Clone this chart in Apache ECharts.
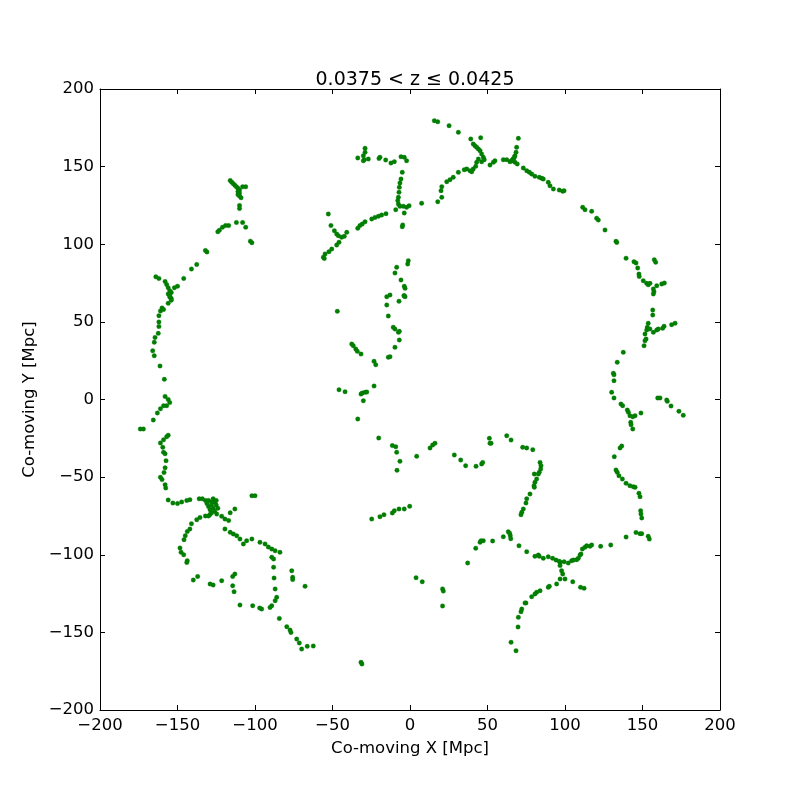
<!DOCTYPE html>
<html>
<head>
<meta charset="utf-8">
<script src="https://cdn.jsdelivr.net/npm/echarts@6/dist/echarts.min.js"></script>
<style>html,body{margin:0;padding:0;background:#fff}#c{width:800px;height:800px}</style>
</head>
<body>
<div id="c"></div>
<script>
const titleText = '0.0375 < z \u2264 0.0425';
const xLabel = 'Co-moving X [Mpc]';
const yLabel = 'Co-moving Y [Mpc]';
const axisMin = -200, axisMax = 200, axisStep = 50;

const westArc = [
[-116,141],[-115,140],[-114,139],[-113,138],[-112,137],[-111,136],[-110,135],[-111,134],[-110,133],[-110,131],[-109,130],[-108,137],[-106,137],[-111,132],
[-110,125],[-110,123],[-112,114],[-108,114],[-106,111],
[-117,112],[-119,112],[-121,111],[-123,109],[-124,108],
[-103,102],[-102,101],[-131,95],[-132,96],[-137.6,87],[-141,84],[-146,78],
[-164,79],[-162,78],
[-158,76],[-157,74],[-156,72],[-155,70],[-154,69],[-152,72],[-150,73],[-156,68],[-155,66],[-154,65],
[-155,67],[-154,64],[-156,62],
[-160,59],[-161,57],[-159,58],[-162,54],[-162,50],[-162,47],[-162.4,42.6],[-164.5,40],[-165,36.8],[-166,31.4],[-165,28.2],[-161.3,21.6],[-158.5,13],
[-158,2],[-156,0],[-155,-2],[-157,-4],[-159,-4],[-161,-6],[-163,-8.7],[-165.6,-13.2],[-174,-19],[-172,-19],
[-156,-23],[-157,-24],[-159,-26],[-161,-28],[-159.5,-30.8],[-159,-34],[-158,-35],[-157.4,-39.4],[-158,-44],[-158.7,-47],[-161,-50],[-160,-51.6],[-158,-54.9],[-157.6,-57],[-156,-64.7]
];

const southWest = [
[-153,-66.7],[-150,-67],[-147.3,-66],[-144,-65],[-142,-64.5],
[-136,-64],[-134,-64],[-132,-65],[-130,-65],[-128,-66],[-127,-64],[-126,-66],[-125,-65],[-131,-67],[-130,-69],[-129,-71],[-128,-68],[-127,-70],[-126,-72],[-129,-74],[-130,-75],[-128,-73],[-125,-68],[-124,-70],
[-124.7,-73.8],[-121.5,-75.2],[-119.4,-77],[-117,-78],[-116,-73],[-113,-70.5],[-102,-62],[-100,-62],
[-132,-75],[-135.5,-76],[-137.6,-77.4],[-141,-80],[-142,-83.4],[-143.7,-85],[-145,-87.7],[-145.8,-90.3],[-148.4,-95.6],[-147.7,-98.4],[-146,-100],[-143.7,-103.8],[-144,-105],
[-119.4,-83.4],[-116,-85.5],[-114,-86.6],[-111.8,-87.7],[-109.7,-89.9],[-107.5,-93],[-105.4,-91],[-102,-89.9],
[-96.8,-92],[-93.5,-93],[-91.4,-95],[-89.2,-96.3],[-87,-97.4],[-83.9,-98.4],[-89.2,-101.6],[-88,-102.7],[-88,-108],[-87.7,-115],[-87,-122],[-86,-127.4],[-87,-129.6],[-89.2,-132.8],[-90.3,-133.9],[-95.7,-135],[-97,-134.3],[-101.5,-132.8],[-109.7,-132.4],
[-76.3,-110.3],[-75.7,-114.5],[-75.7,-116],[-67.7,-120.3],[-84.3,-141],[-79.5,-146.3],[-77.4,-148.5],[-76.8,-150],[-73.1,-154.3],[-71.4,-156.8],[-69.9,-160.7],[-66.3,-159],[-62.4,-158.8],
[-139.8,-116.3],[-137,-114],[-129,-118.8],[-127,-119.5],[-121.5,-116.7],[-114.4,-114],[-113,-112.4],[-114.4,-120],[-113.5,-123.8]
];

const southCentral = [
[-24.7,-77],[-19.4,-75.5],[-16.8,-74.2],[-11.4,-73.1],[-10.1,-71.6],[-7.1,-70.5],[-3.7,-70.5],[-0.2,-68.8],
[-31.6,-169.3],[-31,-170.4],[3.9,-114.8],[7.9,-117.4],[21,-122],[21.5,-123.4],[21,-133],
[37.2,-105.3],[42.4,-95.8],[45.2,-92],[45.8,-91],[47.3,-91],[53.3,-91.1],[60.2,-88.4],[63.4,-85.2],[64.3,-86.2],[64.7,-87.7],[65,-89.7],[65.2,-156.4]
];

const southEast = [
[75.3,-64],[74.8,-66.7],[73.1,-70.5],[72.1,-72.7],[71.6,-74.2],[70.3,-94.2],[75.3,-98],
[80.6,-101],[82.8,-100.2],[83.4,-101],[86,-102.3],[89.2,-101.3],[92,-102.3],[94.2,-103.4],[96.3,-104.2],[96.8,-104.9],[99.4,-104.5],[102.1,-105.3],[104.3,-103.8],[105.4,-103.4],[107.5,-103.2],[108.6,-102.3],[109.7,-100.2],[110.3,-99.5],[111.2,-96.3],[112.9,-95.2],[114,-94.2],[116.1,-94.6],[117.2,-93.7],
[123,-94.6],[129.5,-93.7],[139.4,-88.6],[145.8,-85.6],[148.4,-86.4],[149.5,-86.4],[153.7,-88.1],[154.4,-89.9],[148.8,-71.6],[149,-73.8],[149.5,-76.3],
[96.8,-107],[97.8,-110.3],[98.5,-112.4],[96.8,-115.6],[100,-115.6],[94.6,-118.8],[105,-117.4],[110,-121],[112.3,-121.6],[89.2,-121],[89.9,-120.3],[83.9,-123.2],[81.7,-124.2],[80.6,-125.3],[78.5,-127],[74.8,-131],[74.2,-131],[72.1,-135],[71.6,-136.7],[69.9,-140.3],[69.7,-146.5],[68.4,-161.8]
];

const centre = [
[-46.9,56.8],[-15,66.2],[-12.9,67.3],[-15,60.9],[-7.1,63.3],[-3.9,66.9],[-3.2,66.2],[-14,53.8],[-10.8,46.5],[-9.7,45.4],[-7.5,43.3],[-6.9,43.9],[-6.9,38.3],[-9.7,33.6],[-14,27.2],[-12.9,27.6],
[-37.6,35.7],[-36.6,34.7],[-35,32.5],[-34,31],[-31.6,29.3],[-23.2,24.6],[-22.1,22.4],[-45.8,6.3],[-41.9,5],[-31.6,3.5],[-30.8,4.2],[-29,4.6],[-27.9,4.8],[-30.1,-0.8],[-23.2,8.7],[-33.7,-12.6],[-20.2,-24.8],[-11.4,-29.7],[-9.2,-30.4],[-8.6,-34],[-6.5,-39.8],[-8.4,-45.6],[4.3,-36.6],[12.9,-31.2],[14.6,-29.3],[16.1,-28.2],[28.6,-35.7],[32.7,-39],[35.9,-42.6],[42.6,-43],[46.2,-41.5],[46.9,-40.5],[51.2,-25],[51.6,-28.2],[52.3,-28.2],[62.4,-23.3],[65.2,-26.1],
[72.7,-30.8],[75.3,-31.2],[79.2,-32.3],[83.9,-40.5],[84.5,-42.6],[84.3,-44.8],[83.4,-46.9],[82.8,-48],[80.2,-48],[81.7,-51.2],[80.6,-53.3],[80,-55.5],[80.2,-56.6],[77.4,-60.9]
];

const eastArc = [
[131.8,-36.8],[135.5,-31.2],[136.6,-30],[132.9,-45.4],[133.7,-46.9],[134.8,-49.1],[137,-51.2],[139.4,-54],[141.9,-55.5],[144.1,-56.2],[145.2,-56.6],[147.7,-60.4],[148.4,-62.6],
[137.6,30.4],[133.7,24],[131.2,16.9],[131.6,16],[131.6,12.1],[130.1,4.6],[131.6,1],[136.1,-2.9],[137.2,-4],[140.2,-6.8],[140.9,-8.2],[141.9,-10.4],[143.7,-11.1],[145.2,-10.4],[142.4,-14.7],[142.6,-16.2],[143.7,-19],[149,-8.7],
[159.8,1],[161.3,1],[165.6,-0.3],[166,-1.2],[168.4,-4.2],[173.5,-7.6],[176.3,-10.2],
[157,68],[156.6,57.6],[156.6,54.4],[153.7,49.1],[153.1,46.5],[152.7,44.8],[151.6,42.2],[152.3,39],[151.6,37.9],[151,34.7],[154.8,45.4],[157,43.3],[159.2,44.8],[160.2,45.4],[163,45.9],[163.9,47.2],[168.8,48.2],[171,49.1],
[111.4,123.8],[112.9,122.3],[117.2,121.2],[120.4,116.7],[121.5,115.6],[125.8,109.2],[132.9,101.9],[133.4,101.2],
[139.4,91],[144.5,88.8],[145.8,87.9],[146.9,84.7],[147.7,80.8],[147.9,79.3],[150.5,76.5],[152.7,74.8],[153.7,73.9],[154.8,74.8],[157,71.2],[157.4,69.4],[159.2,73.3],[162.4,74.4],[164.1,75],[157.6,90],[158.5,88.4]
];

const northArc = [
[69.9,168.2],[68.8,162.4],[68.4,159.2],[67.7,157],[66.6,154.9],[65.6,153.8],[64.5,153.2],[67.7,152.8],[69.2,151.7],
[73.1,149.1],[75.3,147.4],[77,146.3],[78.5,145.2],[80.6,143.8],[83.4,143.1],[85,142.5],[86,142],[89.2,139.9],[90.3,137.7],[92.5,135.6],[96.3,134.9],[98.5,134.1],[99.4,134.5],
[15.7,179.6],[17.9,178.9],[25.2,176.4],[31.2,172.1],[39.2,167.8],[45.6,168.6],
[40.8,164.6],[41.9,163.5],[43,162.4],[44.1,161.4],[45.2,160.3],[46.2,158.1],[47.3,156],[47.9,154.5],[46.2,153.2],[44.1,154.9],[43,152.8],[42.4,150.2],[40.8,148.5],[39.8,146.7],[38.7,147.4],[36.6,148.5],[35,148],
[51.6,151],[53.8,152.8],[54.8,153.8],[60.2,154.5],[62.4,154.5],[65.6,153.8],[66.6,154.9],[67.3,156],
[31.2,146.3],[27.9,143.1],[25.8,141.6],[23.7,140.3],[20.5,137.1],[20,134.5],[20.5,130.2],[17.9,127.4],[7.5,126.4]
];

const northWest = [
[-29,161.8],[-29,159.2],[-30.1,157],[-29.5,154.5],[-30.1,153.8],[-33.7,155.6],[-26.9,154.9],[-20,155.3],[-19.4,156],[-15.7,154.3],[-12.3,152.3],[-10.1,153.2],[-5.8,156.4],[-3.7,156],[-2.2,153.8],
[-5,146.3],[-5.8,142],[-6.5,139.5],[-6.9,136.7],[-7.1,133.5],[-7.5,130.2],[-7.9,128.1],[-7.5,125.9],[-6.5,124.4],[-4.3,124.4],[-2.2,123.8],[-0.6,124.8],[-9.2,122.3],[-3.7,120.1],[-4.7,112.4],[-5,111.3],
[-52.7,119.5],[-51,112],[-48.8,108.7],[-47.3,106.6],[-46.2,105.5],[-44.1,104.5],[-42.4,105.1],[-40.8,107.7],
[-33.7,110.3],[-32.3,112],[-30.8,113],[-29,114.5],[-24.7,116.3],[-22.6,117.3],[-20.4,118],[-18.3,118.8],[-15.5,119.7],
[-45.8,101.3],[-47.3,99.5],[-50.5,96.9],[-52.3,95.2],[-54.8,93.7],[-55.9,91.6],[-55.3,90.9],
[-1.1,89.4],[-1.5,87.3],[-8.6,85.2],[-9.7,81.5],[-5.8,77],[-3.7,72.9],[-3.2,71.6],[-3.7,66.9]
];

const allPoints = [].concat(westArc, southWest, southCentral, southEast, centre, eastArc, northArc, northWest);

const FONT = 'DejaVu Sans';
const fmt = v => String(v).replace('-', '\u2212');
const tickStyle = {show: true, inside: true, length: 5, lineStyle: {color: '#000', width: 1}};
const lineStyle = {show: true, onZero: false, lineStyle: {color: '#000', width: 1}};

const chart = echarts.init(document.getElementById('c'), null, {renderer: 'canvas'});
chart.setOption({
  animation: false,
  backgroundColor: '#fff',
  title: {
    text: titleText, left: 410, top: 66, textAlign: 'center',
    textStyle: {fontFamily: FONT, fontSize: 19, fontWeight: 'normal', color: '#000'}
  },
  grid: {left: 100, right: 80, top: 89, bottom: 90, containLabel: false},
  xAxis: [
    {type: 'value', min: axisMin, max: axisMax, interval: axisStep, position: 'bottom',
     name: xLabel, nameLocation: 'middle', nameGap: 30,
     nameTextStyle: {fontFamily: FONT, fontSize: 16.5, color: '#000'},
     axisLine: lineStyle, axisTick: tickStyle, splitLine: {show: false},
     axisLabel: {fontFamily: FONT, fontSize: 16.5, color: '#000', margin: 7, formatter: fmt}},
    {type: 'value', min: axisMin, max: axisMax, interval: axisStep, position: 'top',
     axisLine: lineStyle, axisTick: tickStyle, splitLine: {show: false}, axisLabel: {show: false}}
  ],
  yAxis: [
    {type: 'value', min: axisMin, max: axisMax, interval: axisStep, position: 'left',
     name: yLabel, nameLocation: 'middle', nameGap: 52, nameRotate: 90,
     nameTextStyle: {fontFamily: FONT, fontSize: 16.5, color: '#000'},
     axisLine: lineStyle, axisTick: tickStyle, splitLine: {show: false},
     axisLabel: {fontFamily: FONT, fontSize: 16.5, color: '#000', margin: 6, formatter: fmt}},
    {type: 'value', min: axisMin, max: axisMax, interval: axisStep, position: 'right',
     axisLine: lineStyle, axisTick: tickStyle, splitLine: {show: false}, axisLabel: {show: false}}
  ],
  series: [{
    type: 'scatter', xAxisIndex: 0, yAxisIndex: 0,
    data: allPoints, symbol: 'circle', symbolSize: 4.5,
    itemStyle: {color: '#008000', borderColor: '#007000', borderWidth: 0.3, opacity: 1}
  }]
});
</script>
</body>
</html>
